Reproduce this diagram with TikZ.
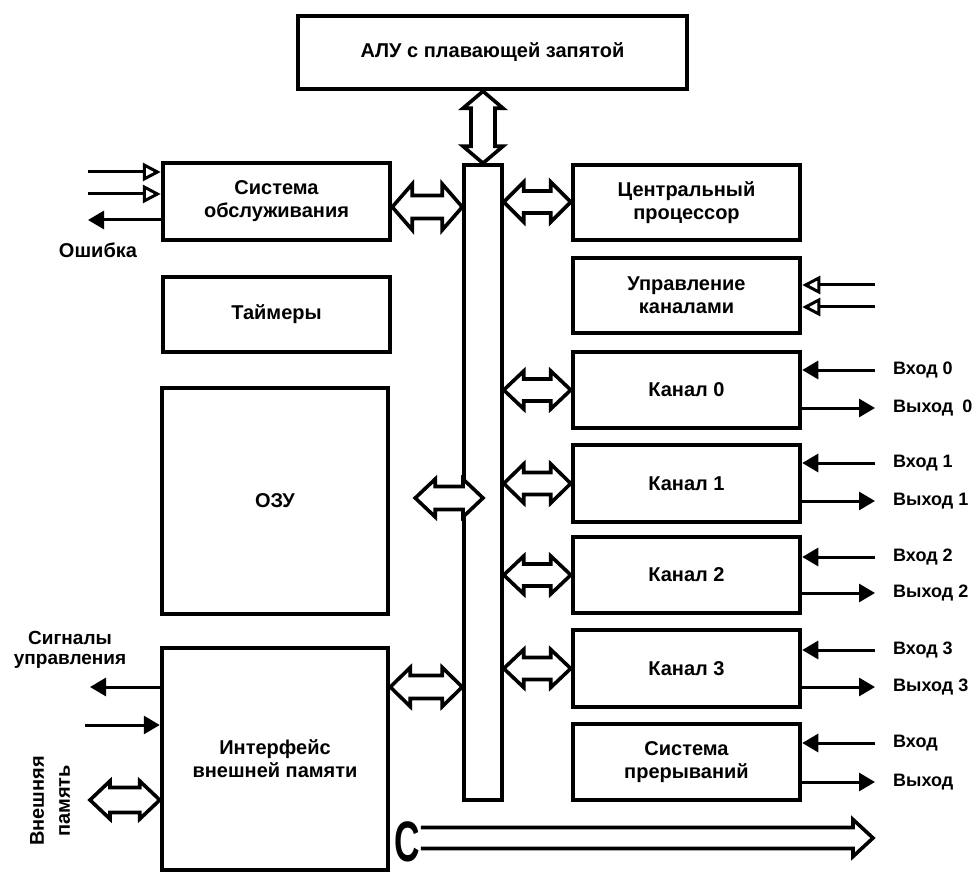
\documentclass[tikz,border=0pt]{standalone}
\usepackage{fontspec}
\usepackage{graphicx}
\setmainfont{Liberation Sans}
\usetikzlibrary{arrows.meta,calc}
\newcommand{\boxfont}{\fontsize{20}{23}\selectfont\bfseries}
\newcommand{\sigfont}{\fontsize{18}{20}\selectfont\bfseries}
\newcommand{\dblH}[4]{%
  \draw[hollow] let \p1=#1, \p2=#2 in
   (\x1,\y1) -- ({\x1+20pt},{\y1+#3}) -- ({\x1+20pt},{\y1+#4}) -- ({\x2-20pt},{\y1+#4})
   -- ({\x2-20pt},{\y1+#3}) -- (\x2,\y1) -- ({\x2-20pt},{\y1-#3}) -- ({\x2-20pt},{\y1-#4})
   -- ({\x1+20pt},{\y1-#4}) -- ({\x1+20pt},{\y1-#3}) -- cycle;}
\newcommand{\dblV}[4]{%
  \draw[hollow] let \p1=#1, \p2=#2 in
   (\x1,\y1) -- ({\x1+#3},{\y1-17pt}) -- ({\x1+#4},{\y1-17pt}) -- ({\x1+#4},{\y2+17pt})
   -- ({\x1+#3},{\y2+17pt}) -- (\x1,\y2) -- ({\x1-#3},{\y2+17pt}) -- ({\x1-#4},{\y2+17pt})
   -- ({\x1-#4},{\y1-17pt}) -- ({\x1-#3},{\y1-17pt}) -- cycle;}
\begin{document}
\begin{tikzpicture}[x=1pt,y=-1pt,
  box/.style={draw, line width=4.5pt, inner sep=0pt, align=center, font=\boxfont},
  busbox/.style={draw, line width=3.5pt, fill=white, inner sep=0pt},
  hollow/.style={draw, line width=3.6pt, fill=white, line join=miter},
  fin/.style={line width=3pt, -{Triangle[length=16pt,width=18pt]}},
  oin/.style={line width=3pt, -{Triangle[open,length=18pt,width=18pt]}},
  lab/.style={anchor=west, inner sep=0pt, font=\sigfont},
  note/.style={inner sep=0pt, align=center, font=\fontsize{20}{18}\selectfont\bfseries}]
\useasboundingbox (0,0) rectangle (974,874);
% bus
\node[busbox, minimum width=38pt, minimum height=635pt] (bus) at (483,482.5) {};
% blocks
\node[box, minimum width=389pt, minimum height=73pt] (alu) at (492.5,52.5) {АЛУ с плавающей запятой};
\node[box, minimum width=227pt, minimum height=77pt] (sys) at (276.5,201.5) {Система\\обслуживания};
\node[box, minimum width=227pt, minimum height=75pt] (tim) at (276.5,314.5) {Таймеры};
\node[box, minimum width=226pt, minimum height=226pt] (ram) at (275,501) {ОЗУ};
\node[box, minimum width=226pt, minimum height=222pt] (ext) at (275,759) {Интерфейс\\внешней памяти};
\node[box, minimum width=227pt, minimum height=75pt] (cpu) at (686.5,202.5) {Центральный\\процессор};
\node[box, minimum width=227pt, minimum height=75pt] (cm) at (686.5,295.5) {Управление\\каналами};
\node[box, minimum width=227pt, minimum height=76pt] (ch0) at (686.5,390) {Канал 0};
\node[box, minimum width=227pt, minimum height=77pt] (ch1) at (686.5,483.5) {Канал 1};
\node[box, minimum width=227pt, minimum height=76pt] (ch2) at (686.5,575) {Канал 2};
\node[box, minimum width=227pt, minimum height=77pt] (ch3) at (686.5,668.5) {Канал 3};
\node[box, minimum width=227pt, minimum height=76pt] (irq) at (686.5,762) {Система\\прерываний};
% bus connections
\dblV{(bus.north |- alu.south)}{(bus.north)}{20pt}{12pt}
\dblH{(sys.east |- 0,207)}{(bus.west |- 0,207)}{23pt}{11.5pt}
\dblH{(bus.east |- 0,202)}{(cpu.west |- 0,202)}{20pt}{11pt}
\dblH{(bus.east |- ch0.west)}{(ch0.west)}{19pt}{11pt}
\dblH{(bus.east |- ch1.west)}{(ch1.west)}{19.5pt}{11pt}
\dblH{(bus.east |- ch2.west)}{(ch2.west)}{19pt}{11pt}
\dblH{(bus.east |- ch3.west)}{(ch3.west)}{19pt}{11pt}
\dblH{($(ram.east |- 0,498)+(25,0)$)}{(bus.center |- 0,498)}{19pt}{11.5pt}
\dblH{(ext.east |- 0,687)}{(bus.west |- 0,687)}{19.5pt}{11.5pt}
% external memory
\coordinate (extmem) at (90,800);
\dblH{(extmem)}{(ext.west |- extmem)}{19pt}{12.5pt}
\node[note, rotate=90, font=\fontsize{20}{26}\selectfont\bfseries] (memlab) at (50,801) {Внешняя\\память};
% service system signals
\coordinate (s1) at (88,172);
\coordinate (s2) at (88,194);
\coordinate (errend) at (88,220);
\draw[oin] (s1) -- (sys.west |- s1);
\draw[oin] (s2) -- (sys.west |- s2);
\draw[fin] (sys.west |- errend) -- (errend);
\node[note] (errlab) at (98,250) {Ошибка};
% channel management inputs
\coordinate (c1) at (875,285);
\coordinate (c2) at (875,307);
\draw[oin] (c1) -- (cm.east |- c1);
\draw[oin] (c2) -- (cm.east |- c2);
% channel inputs / outputs
\node[lab] (in0) at (893,370) {Вход 0};
\node[lab] (out0) at (893,408) {Выход\enspace 0};
\node[lab] (in1) at (893,463) {Вход 1};
\node[lab] (out1) at (893,501) {Выход 1};
\node[lab] (in2) at (893,557) {Вход 2};
\node[lab] (out2) at (893,593) {Выход 2};
\node[lab] (in3) at (893,650) {Вход 3};
\node[lab] (out3) at (893,687) {Выход 3};
\node[lab] (in4) at (893,743) {Вход};
\node[lab] (out4) at (893,782) {Выход};
\foreach \k/\b in {0/ch0,1/ch1,2/ch2,3/ch3,4/irq}{
  \draw[fin] ([xshift=-18pt]in\k.west) -- (\b.east |- in\k.west);
  \draw[fin] (\b.east |- out\k.west) -- ([xshift=-18pt]out\k.west);
}
% external interface signals
\node[note, font=\fontsize{19}{20.5}\selectfont\bfseries] (siglab) at (70,650) {Сигналы\\управления};
\coordinate (sigend) at (90,687);
\coordinate (sigin) at (85,725);
\draw[fin] (ext.west |- sigend) -- (sigend);
\draw[fin] (sigin) -- (ext.west |- sigin);
% bottom arrow
\node[inner sep=0pt, font=\fontsize{57}{57}\selectfont\bfseries] (C) at (407,842) {\scalebox{0.62}[1]{С}};
\coordinate (cend) at (873,838);
\draw[line width=3.6pt, line join=miter] let \p1=(C.east), \p2=(cend) in
  ({\x1+1pt},{\y2+10.5pt}) -- ({\x2-20pt},{\y2+10.5pt}) -- ({\x2-20pt},{\y2+18.5pt}) -- (\x2,\y2)
  -- ({\x2-20pt},{\y2-18.5pt}) -- ({\x2-20pt},{\y2-10.5pt}) -- ({\x1+1pt},{\y2-10.5pt});
\end{tikzpicture}
\end{document}
